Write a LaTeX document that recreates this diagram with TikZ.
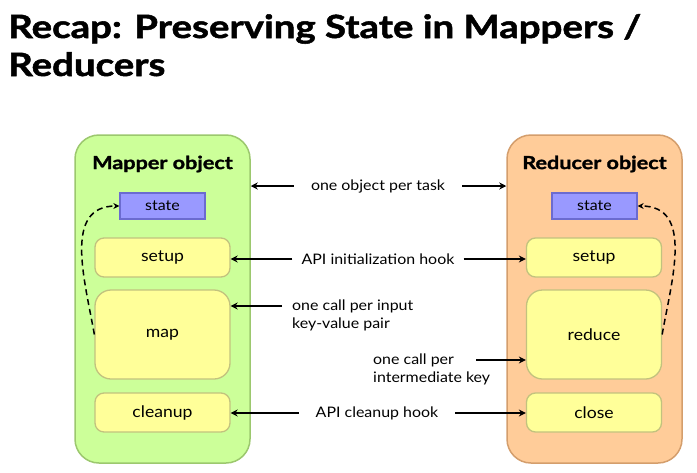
\documentclass[tikz,border=0pt]{standalone}
\usepackage{fontspec}
\setmainfont{Lato}
\newfontfamily\wideface[FakeStretch=1.1]{Lato}
\newfontfamily\headface[FakeStretch=1.2, BoldFeatures={FakeBold=1.6}]{Lato}
\usetikzlibrary{arrows.meta}
\definecolor{mapfill}{HTML}{CCFF99}
\definecolor{mapline}{HTML}{9CC86E}
\definecolor{redfill}{HTML}{FFCC99}
\definecolor{redline}{HTML}{D49E6C}
\definecolor{stepfill}{HTML}{FFFF99}
\definecolor{stepline}{HTML}{C2C27E}
\definecolor{statefill}{HTML}{9999FF}
\definecolor{stateline}{HTML}{6B6BD0}
\tikzset{
  objbox/.style={draw=#1line, fill=#1fill, line width=1.5pt, rounded corners=24pt,
    minimum width=175pt, minimum height=328pt},
  stepbox/.style={draw=stepline, fill=stepfill, line width=1.3pt, rounded corners=9pt,
    minimum width=135pt, minimum height=#1, font=\wideface\fontsize{16}{19}\selectfont},
  statebox/.style={draw=stateline, fill=statefill, line width=1.3pt,
    minimum width=85pt, minimum height=26pt, font=\wideface\fontsize{14.5}{17}\selectfont},
  objlabel/.style={font=\headface\bfseries\fontsize{18}{21}\selectfont},
  hook/.style={font=\wideface\fontsize{14.5}{17}\selectfont, inner sep=0pt},
  call/.style={-{Stealth[length=7pt,width=7pt]}, line width=1.6pt},
  loop/.style={-{Stealth[length=6pt,width=6pt]}, line width=1.5pt, dash pattern=on 6pt off 4pt}
}
\begin{document}
\begin{tikzpicture}[x=1pt,y=-1pt]
\useasboundingbox[fill=white] (0,0) rectangle (697,472);
\node[anchor=base west, inner sep=0pt, font=\headface\bfseries\fontsize{32}{38}\selectfont] (title1) at (8,38) {Recap: Preserving State in Mappers /};
\node[anchor=base west, inner sep=0pt, font=\headface\bfseries\fontsize{32}{38}\selectfont] (title2) at (8,76) {Reducers};

\node[objbox=map] (mapper) at (162.5,299) {};
\node[objlabel] (maplabel) at (162.5,164) {Mapper object};
\node[statebox] (mstate) at (162.5,206) {state};
\node[stepbox=39pt] (msetup) at (162.5,257.5) {setup};
\node[stepbox=89pt, rounded corners=16pt] (map) at (162.5,334.5) {map};
\node[stepbox=39pt] (cleanup) at (162.5,412.5) {cleanup};

\node[objbox=red] (reducer) at (594.5,299) {};
\node[objlabel] (redlabel) at (594.5,164) {Reducer object};
\node[statebox] (rstate) at (594.5,206) {state};
\node[stepbox=39pt] (rsetup) at (594,257.5) {setup};
\node[stepbox=89pt, rounded corners=16pt] (reduce) at (594,334.5) {reduce};
\node[stepbox=39pt] (close) at (594,412.5) {close};

\draw[loop] (map.west) to[out=100, in=180, looseness=1.1] (mstate.west);
\draw[loop] (reduce.east) to[out=80, in=0, looseness=1.1] (rstate.east);

\node[hook, inner xsep=17pt] (task) at (378,186) {one object per task};
\draw[call] (task.west) -- (task -| mapper.east);
\draw[call] (task.east) -- (task -| reducer.west);

\node[hook, inner xsep=9pt] (init) at (378,259) {API initialization hook};
\draw[call] (init.west) -- (init -| msetup.east);
\draw[call] (init.east) -- (init -| rsetup.west);

\node[hook, anchor=west, inner xsep=10pt] (input1) at (282,306) {one call per input};
\node[hook, anchor=north west] (input2) at ([xshift=10pt,yshift=-5pt]input1.south west) {key-value pair};
\draw[call] (input1.west) -- (input1 -| map.east);

\node[hook, anchor=west] (inter1) at (373,360) {one call per};
\node[hook, anchor=north west] (inter2) at ([yshift=-5pt]inter1.south west) {intermediate key};
\draw[call] ([xshift=22pt]inter1.east) -- (inter1 -| reduce.west);

\node[hook, inner xsep=17pt] (clean) at (377,413) {API cleanup hook};
\draw[call] (clean.west) -- (clean -| cleanup.east);
\draw[call] (clean.east) -- (clean -| close.west);
\end{tikzpicture}
\end{document}
